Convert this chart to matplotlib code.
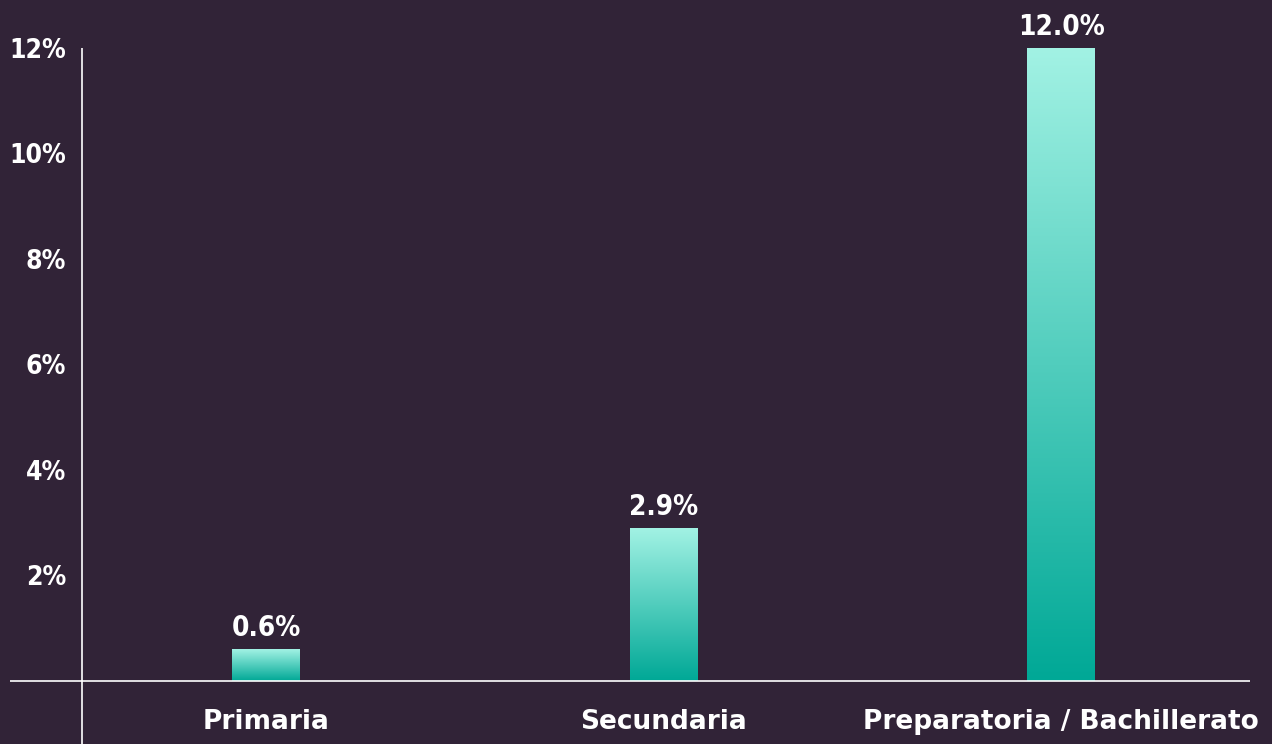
import numpy as np
import matplotlib.pyplot as plt
from matplotlib.colors import LinearSegmentedColormap

# datos
categorias = ['Primaria', 'Secundaria', 'Preparatoria / Bachillerato']
valores = [0.6, 2.9, 12.0]
etiquetas = ['0.6%', '2.9%', '12.0%']
ticks_y = [2, 4, 6, 8, 10, 12]
ticks_txt = ['2%', '4%', '6%', '8%', '10%', '12%']

fondo = '#312337'
cmap = LinearSegmentedColormap.from_list('verde', ['#00a896', '#a2f2e4'])

fig = plt.figure(figsize=(12.72, 7.44), dpi=100, facecolor=fondo)
# ejes en pixeles: x 10..1250, y 48..744
ax = fig.add_axes([10 / 1272, 0, 1240 / 1272, (744 - 48) / 744])
ax.set_facecolor(fondo)
ax.set_xlim(-0.644, 2.475)
ax.set_ylim(-1.195, 12)
for s in ax.spines.values():
    s.set_visible(False)

ancho = 0.171
grad = np.linspace(0, 1, 256).reshape(-1, 1)
for i, v in enumerate(valores):
    ax.imshow(grad, cmap=cmap, origin='lower', aspect='auto',
              extent=(i - ancho / 2, i + ancho / 2, 0, v), zorder=2)
    ax.text(i, v + 0.13, etiquetas[i], ha='center', va='bottom', color='white',
            fontsize=20, fontstretch='condensed', fontweight='bold',
            family='DejaVu Sans')
    ax.text(i, -0.78, categorias[i], ha='center', va='center', color='white',
            fontsize=19, fontweight='bold', family='DejaVu Sans')

# lineas de ejes
ax.axhline(0, color='white', lw=1.2, zorder=3)
ax.axvline(-0.463, color='white', lw=1.2, zorder=3)

ax.set_xticks([])
ax.set_yticks([])
for t, txt in zip(ticks_y, ticks_txt):
    ax.text(-0.503, t - 0.05, txt, ha='right', va='center', color='white',
            fontsize=19, fontstretch='condensed', fontweight='bold',
            family='DejaVu Sans')

fig.savefig('out.png', dpi=100, facecolor=fondo)
